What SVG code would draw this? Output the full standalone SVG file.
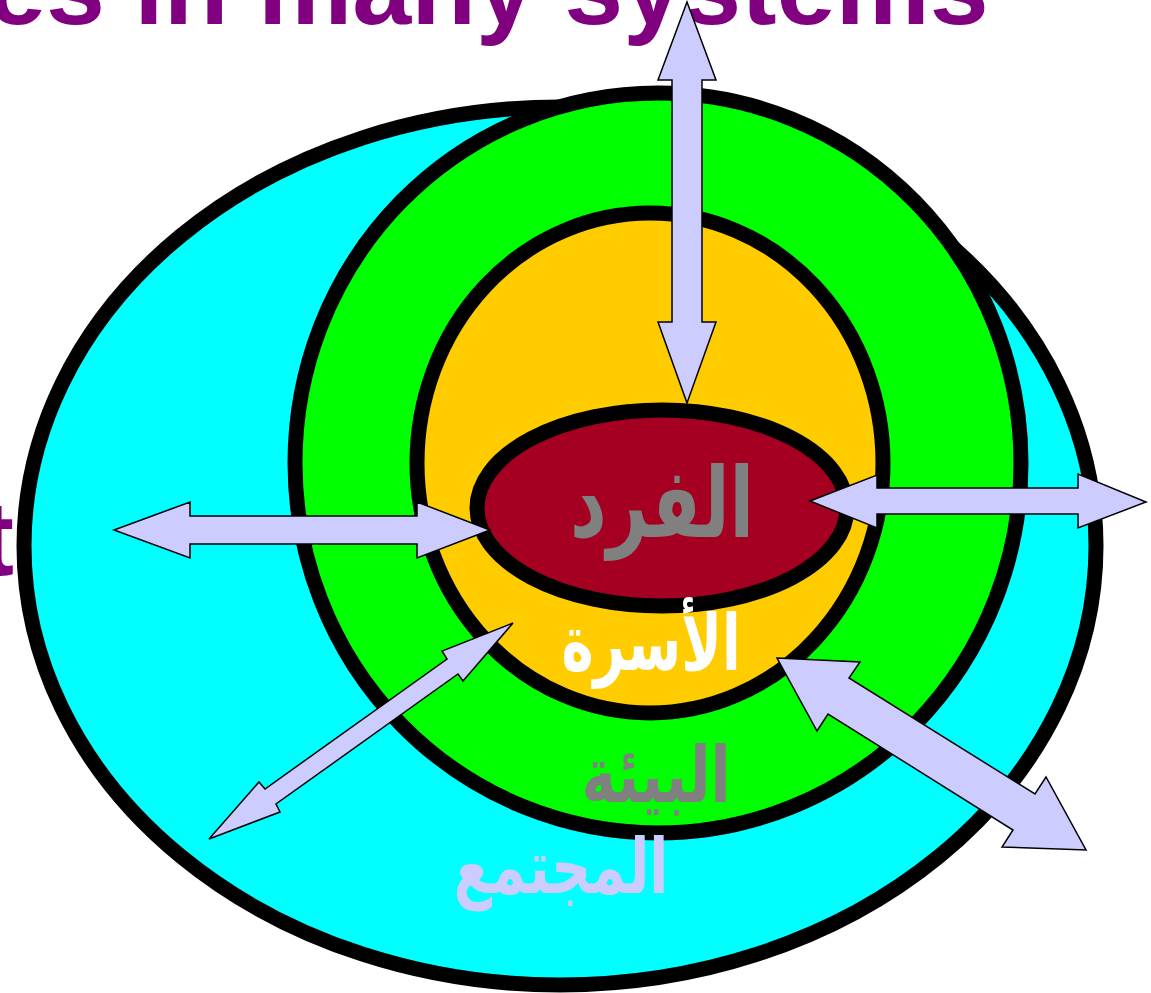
<svg xmlns="http://www.w3.org/2000/svg" width="1151" height="993" viewBox="0 0 1151 993">
<style>
.ring{stroke:#000;stroke-width:15}
.arrow{fill:#CCCCFF;stroke:#000;stroke-width:1.5;stroke-linejoin:miter}
.title{font-family:"Liberation Sans",Arial,sans-serif;font-weight:bold;fill:#800080;font-size:106px}
.ar{font-family:"DejaVu Sans","Noto Sans",sans-serif;font-weight:bold;text-anchor:middle}
</style>
<rect width="1151" height="993" fill="#fff"/>
<g id="title">
<text class="title" x="-13" y="24">es in many systems</text>
<text class="title" x="14" y="575" text-anchor="end">t</text>
</g>
<g id="community"><ellipse class="ring" cx="560" cy="546" rx="536" ry="439" fill="#00FFFF"/></g>
<g id="environment"><ellipse class="ring" cx="658" cy="463" rx="363" ry="370" fill="#00FF00"/></g>
<g id="family"><ellipse class="ring" cx="650" cy="463" rx="233" ry="250" fill="#FFCC00"/></g>
<g id="individual"><ellipse class="ring" cx="662" cy="508" rx="185" ry="98" fill="#A50021"/></g>
<g id="connectors">
<polygon class="arrow" points="687,2 716,80 702,80 702,322 716,322 687,403 658,322 672,322 672,80 658,80"/>
<polygon class="arrow" points="114,530 190,502 190,516 417,516 417,502 490,530 417,558 417,544 190,544 190,558"/>
<polygon class="arrow" points="810,501 877,475 877,488 1078,488 1078,474 1146,502 1078,528 1078,514 877,514 877,528"/>
<polygon class="arrow" points="209,839 259,782 265,789 447,659 442,651 513,623 463,681 458,674 276,804 280,812"/>
<polygon class="arrow" points="777,658 860,662 849,678 1035,794 1046,777 1086,850 1002,847 1013,830 828,714 817,731"/>
</g>
<g id="labels">
<text class="ar" transform="translate(662,537) scale(0.73,1)" font-size="98" fill="#808080">الفرد</text>
<text class="ar" transform="translate(651,670) scale(0.7,1)" font-size="78" fill="#FFFFFF">الأسرة</text>
<text class="ar" transform="translate(656,802) scale(0.75,1)" font-size="78" fill="#808080">البيئة</text>
<text class="ar" transform="translate(561,893) scale(0.73,1)" font-size="76" fill="#CCCCFF">المجتمع</text>
</g>
</svg>
